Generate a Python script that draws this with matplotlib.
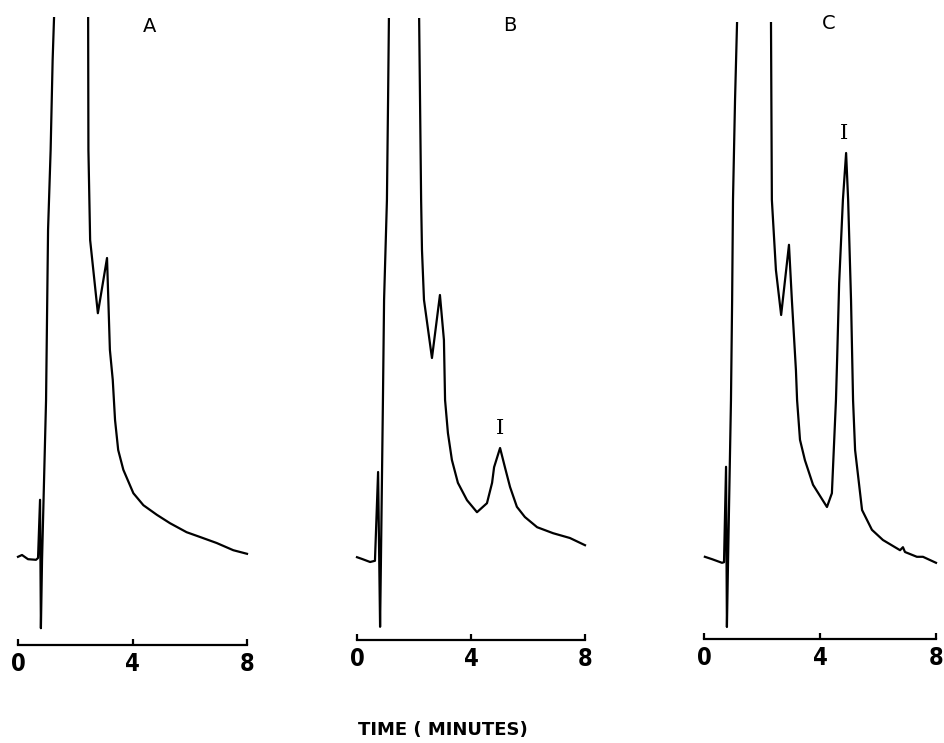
import matplotlib
matplotlib.use('Agg')
import matplotlib.pyplot as plt

# Chromatograms A, B, C: time (min) vs detector response (chart units, 0 = time axis line)
# Points above the top of each panel are off-scale (solvent front) and get clipped.
t_a = [0.0, 0.14, 0.35, 0.63, 0.70, 0.77, 0.80, 0.84, 0.98, 1.05, 1.14, 1.21, 1.26, 1.60,
       2.45, 2.46, 2.52, 2.79, 3.11, 3.21, 3.31, 3.39, 3.50, 3.68, 4.03, 4.38, 4.85,
       5.31, 5.89, 6.36, 6.94, 7.52, 8.0]
y_a = [14.7, 15.0, 14.3, 14.2, 14.5, 24.2, 2.8, 14.2, 40.8, 69.2, 82.5, 97.5, 104.7, 300,
       104.7, 82.5, 67.5, 55.3, 64.5, 49.2, 44.2, 37.5, 32.5, 29.2, 25.3, 23.3, 21.7,
       20.3, 18.8, 18.0, 17.0, 15.8, 15.2]

t_b = [0.0, 0.18, 0.46, 0.63, 0.74, 0.81, 0.84, 0.91, 0.95, 1.05, 1.09, 1.12, 1.60,
       2.18, 2.25, 2.28, 2.35, 2.63, 2.91, 3.05, 3.09, 3.19, 3.33, 3.54, 3.86, 4.21,
       4.56, 4.74, 4.81, 5.02, 5.19, 5.37, 5.61, 5.89, 6.32, 6.88, 7.47, 8.0]
y_b = [13.8, 13.5, 13.0, 13.2, 28.0, 2.2, 13.3, 40.0, 56.7, 73.3, 90.0, 103.7, 300,
       103.7, 73.3, 65.0, 56.7, 47.0, 57.5, 50.0, 40.0, 34.5, 30.0, 26.2, 23.3, 21.3,
       22.8, 26.2, 28.8, 32.0, 28.8, 25.5, 22.2, 20.5, 18.8, 17.8, 17.0, 15.8]

t_c = [0.03, 0.28, 0.62, 0.69, 0.76, 0.79, 0.83, 0.93, 0.97, 1.00, 1.07, 1.14, 1.60,
       2.31, 2.34, 2.48, 2.66, 2.93, 3.03, 3.17, 3.21, 3.31, 3.48, 3.76, 4.24, 4.41,
       4.55, 4.59, 4.66, 4.79, 4.90, 4.97, 5.07, 5.14, 5.21, 5.45, 5.79, 6.17, 6.76,
       6.86, 6.93, 7.34, 7.55, 8.0]
y_c = [13.7, 13.3, 12.7, 12.8, 28.7, 2.0, 13.2, 39.8, 56.5, 73.2, 89.8, 102.8, 300,
       102.8, 73.2, 61.5, 54.0, 65.7, 56.5, 44.8, 39.8, 33.2, 29.8, 25.7, 22.0, 24.3,
       39.8, 46.5, 59.3, 73.2, 81.0, 73.2, 56.5, 39.8, 31.5, 21.5, 18.2, 16.5, 14.8,
       15.3, 14.5, 13.7, 13.7, 12.7]

panel_labels = ['A', 'B', 'C']
panel_label_pos = [(4.61, 103.0), (5.37, 102.5), (4.31, 102.6)]
peak_label = 'I'
peak_label_pos = [None, (5.02, 35.3), (4.83, 84.3)]
x_ticks = [0, 4, 8]

W, H = 944, 743
fig = plt.figure(figsize=(W / 100, H / 100), dpi=100)

# pixel layout per panel: (x of t=0, px per minute, y of time axis, y of top clip)
layout = [(18, 28.625, 645, 17), (357, 28.5, 640, 18), (704, 29.0, 639, 22)]
series = [(t_a, y_a), (t_b, y_b), (t_c, y_c)]
pad_t = 0.3

for i, ((x0, sc, ay, top), (t, y)) in enumerate(zip(layout, series)):
    left = x0 - pad_t * sc
    width = (8 + 2 * pad_t) * sc
    ax = fig.add_axes([left / W, (H - ay) / H, width / W, (ay - top) / H])
    ax.plot(t, y, color='black', lw=1.6, solid_joinstyle='round')
    ax.set_xlim(-pad_t, 8 + pad_t)
    ax.set_ylim(0, (ay - top) / 6)
    for s in ['top', 'right', 'left']:
        ax.spines[s].set_visible(False)
    ax.spines['bottom'].set_bounds(0, 8)
    ax.spines['bottom'].set_linewidth(1.6)
    ax.set_yticks([])
    ax.set_xticks(x_ticks)
    ax.set_xticklabels([str(v) for v in x_ticks], family='DejaVu Sans',
                       fontstretch='condensed', fontweight='bold', fontsize=17)
    ax.tick_params(axis='x', direction='in', length=4, width=1.6, pad=5)
    ax.patch.set_visible(False)

    lx, ly = panel_label_pos[i]
    ax.text(lx, ly, panel_labels[i], ha='center', va='center', fontsize=14,
            family='DejaVu Sans')
    if peak_label_pos[i] is not None:
        px, py = peak_label_pos[i]
        ax.text(px, py, peak_label, ha='center', va='center', fontsize=15,
                family='DejaVu Serif')

fig.text(443 / W, 1 - 730 / H, 'TIME ( MINUTES)', ha='center', va='center',
         fontsize=13, fontweight='bold', family='DejaVu Sans')

fig.savefig('out.png', dpi=100, facecolor='white')
